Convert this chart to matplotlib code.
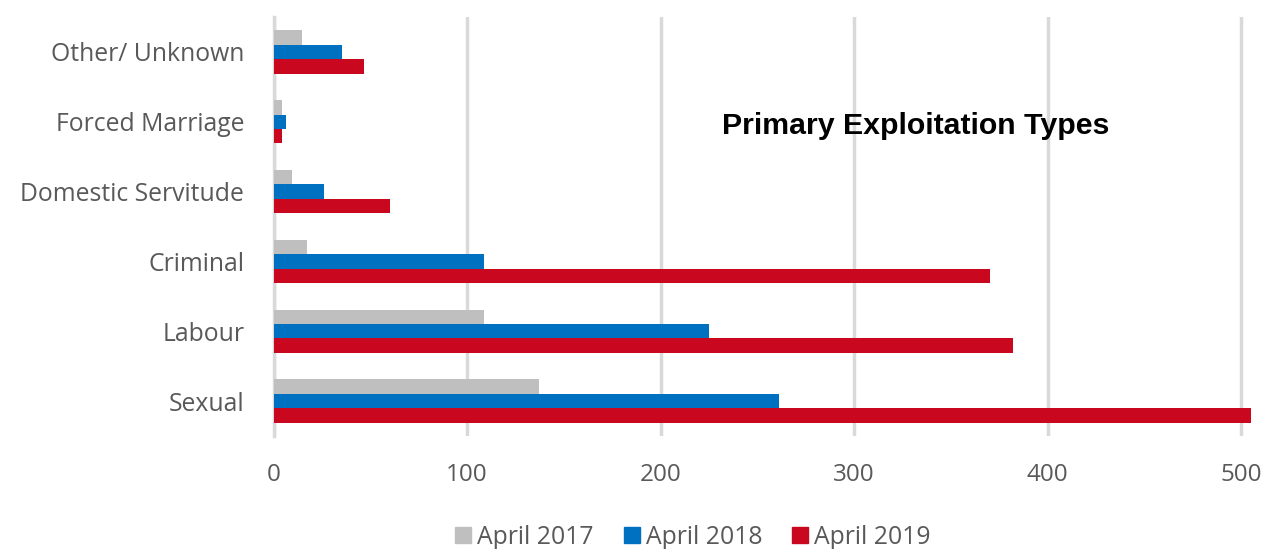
import matplotlib
matplotlib.use("Agg")
import matplotlib.pyplot as plt
import numpy as np
from matplotlib.patches import Patch

categories = ["Sexual", "Labour", "Criminal", "Domestic Servitude", "Forced Marriage", "Other/ Unknown"]
tick_labels = ["Sexual", "Labour", "Criminal", "Domestic Servitude", "Forced Marriage", "Other/ Unknown"]
series_names = ["April 2017", "April 2018", "April 2019"]
apr2017 = [137, 109, 17.5, 9.6, 4.6, 14.5]
apr2018 = [261, 225, 109, 26, 6.3, 35.5]
apr2019 = [505, 382, 370, 60, 4.6, 47]
colors = ["#BFBFBF", "#0070C0", "#C9081F"]
xticks = [0, 100, 200, 300, 400, 500]

font = "Open Sans"
label_color = "#595959"

fig = plt.figure(figsize=(12.62, 5.49), dpi=100)
W, H = 1262, 549
ax = fig.add_axes([273.5 / W, 1 - 436 / H, (1251 - 273.5) / W, (436 - 17) / H])

y = np.arange(len(categories))
h = 0.207
for vals, col, off in zip([apr2017, apr2018, apr2019], colors, [h, 0, -h]):
    ax.barh(y + off, vals, height=h, color=col, zorder=3)

ax.set_xlim(0, 505)
ax.set_ylim(-0.5, len(categories) - 0.5)
ax.set_xticks(xticks)
ax.set_xticklabels([str(v) for v in xticks], fontsize=17.5, color=label_color, family=font)
ax.set_yticks(y)
ax.set_yticklabels(tick_labels, fontsize=17.8, color=label_color, family=font)
ax.tick_params(axis="both", length=0)
ax.tick_params(axis="y", pad=21)
ax.tick_params(axis="x", pad=19.5)
ax.grid(axis="x", color="#D9D9D9", linewidth=2.5, zorder=0)
for s in ["top", "right", "bottom"]:
    ax.spines[s].set_visible(False)
ax.spines["left"].set_color("#D9D9D9")
ax.spines["left"].set_linewidth(2.5)
ax.spines["left"].set_zorder(1)

fig.text(916 / W, 1 - 126 / H, "Primary Exploitation Types", ha="center", va="center",
         fontsize=21.8, fontweight="bold", family="Liberation Sans", color="black")

handles = [Patch(color=c) for c in colors]
fig.legend(handles, series_names, loc="center", bbox_to_anchor=(693 / W, 1 - 537 / H),
           ncol=3, frameon=False, prop={"family": font, "size": 17.8},
           handlelength=0.65, handleheight=0.65, handletextpad=0.25, columnspacing=1.2,
           labelcolor=label_color)

fig.savefig("out.png", dpi=100)
